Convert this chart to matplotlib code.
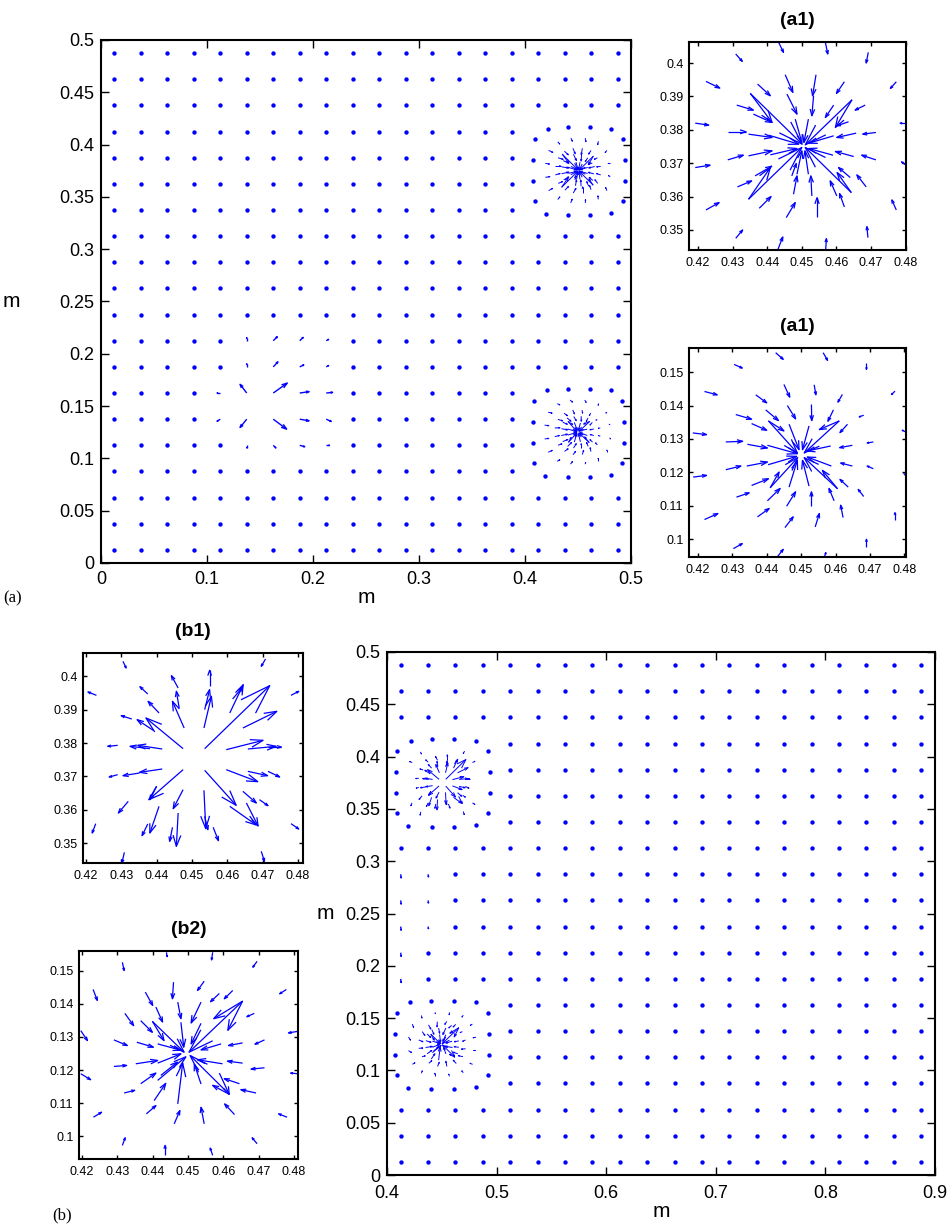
import numpy as np
import matplotlib
matplotlib.use("Agg")
import matplotlib.pyplot as plt
from matplotlib.collections import LineCollection

plt.rcParams['font.family'] = ['Liberation Sans', 'DejaVu Sans']

# regular grid of the coarse mesh (m)
grid_y = [0.0125, 0.0375, 0.0625, 0.0875, 0.1125, 0.1375, 0.1625, 0.1875, 0.2125, 0.2375,
          0.2625, 0.2875, 0.3125, 0.3375, 0.3625, 0.3875, 0.4125, 0.4375, 0.4625, 0.4875]
grid_x_a = list(grid_y)
grid_x_b = [0.4125, 0.4375, 0.4625, 0.4875, 0.5125, 0.5375, 0.5625, 0.5875, 0.6125, 0.6375,
            0.6625, 0.6875, 0.7125, 0.7375, 0.7625, 0.7875, 0.8125, 0.8375, 0.8625, 0.8875]

# refined zones (no coarse points inside)
refined_x = (0.40, 0.50)
refined_y = [(0.325, 0.425), (0.075, 0.175)]

# source centres
center_top = (0.4505, 0.3752)
center_bot = (0.4499, 0.1251)

# outer ring of the refined mesh, offsets in mm (drawn as dots)
ring_outer = [(-29, 40), (-9.5, 41.5), (11, 41.5), (31, 40), (-41, 30), (42, 30),
              (-42.5, 10), (43.5, 10), (-42.5, -10), (43.5, -10), (-41, -29.5), (42, -29.5),
              (-31, -41.5), (-9.5, -42.5), (11, -42.5), (31, -41)]

# arrows (dx, dy, u, v) in mm relative to the centre
a1_top = [
    (-7.2, 31.0, 1.4, -3.0), (6.3, 31.0, 0.7, -3.5), (-19.6, 27.5, 1.9, -2.2), (18.7, 28.0, -0.6, -3.2),
    (-28.2, 19.3, 4.0, -2.0), (26.8, 19.2, -1.7, -2.0), (-31.3, 6.8, 3.9, -0.6), (29.7, 6.8, -1.8, 0.0),
    (-31.3, -6.5, 4.3, 0.7), (29.9, -6.0, -1.6, 1.2), (-28.2, -19.2, 3.8, 2.2), (26.8, -19.2, -1.3, 3.0),
    (-19.6, -27.7, 2.0, 2.5), (18.6, -27.5, -0.3, 3.3), (-7.4, -31.0, 1.4, 3.7), (6.4, -31.0, 0.2, 3.2),
    (-5.3, 21.3, 2.2, -5.3), (3.6, 21.3, -1.0, -6.3), (11.8, 19.2, -2.3, -3.5), (-13.3, 18.5, 3.7, -3.5),
    (17.8, 12.2, -2.9, -1.5), (-19.3, 12.2, 4.8, -1.5), (20.9, 4.0, -3.8, -0.5), (-21.9, 4.2, 5.3, 0.0),
    (-21.9, -4.2, 4.5, 1.4), (20.9, -4.2, -4.1, 1.4), (-19.1, -12.3, 4.1, 1.8), (18.1, -12.3, -2.7, 3.6),
    (-12.8, -18.7, 3.4, 3.5), (11.8, -18.3, -1.4, 4.0), (-5.0, -21.5, 2.6, 4.5), (3.9, -21.2, 0.0, 5.7),
    (-4.8, 15.5, 2.9, -6.0), (2.9, 15.0, -0.5, -6.0), (8.7, 12.2, -2.4, -3.7), (-14.5, 9.5, 5.3, -2.5),
    (13.0, 7.2, -3.4, -1.2), (-15.9, 3.5, 6.8, -1.0), (15.2, 3.8, -5.6, -1.3), (-15.9, -3.0, 6.8, 1.5),
    (14.5, -3.2, -5.3, 1.5), (-14.0, -9.0, 4.8, 2.9), (13.5, -9.5, -3.4, 3.0), (-3.4, -9.0, 1.3, 3.7),
    (2.4, -15.0, -0.3, 6.0), (-2.9, -14.5, 1.0, 5.5), (9.6, -15.0, -1.9, 4.5),
    (-15.4, 15.7, 15.0, -15.2), (-15.4, 15.7, 6.3, -8.7), (14.0, 13.8, -13.5, -13.5), (14.0, 13.8, -4.8, -8.3),
    (-15.9, -16.0, 15.4, 15.5), (-15.9, -16.0, 6.3, 9.5), (13.8, -14.0, -13.3, 13.5), (13.8, -14.0, -4.1, 6.0),
    (-10.1, 3.2, 8.7, -2.7), (-9.6, -2.7, 7.7, 1.9), (8.7, 3.0, -7.2, -2.2), (8.5, -2.8, -7.0, 2.0),
    (-2.4, 8.0, 1.9, -7.0), (1.4, 8.0, -1.3, -7.0), (-1.9, -8.5, 1.4, 7.0), (1.4, -8.5, -1.0, 7.0),
]

a1_bot = [
    (-7.3, 30.7, 2.2, -2.0), (6.5, 30.7, 1.3, -2.3), (-19.4, 27.2, 2.4, -1.1), (19.1, 27.6, 0.0, -1.9),
    (-28.0, 19.1, 3.7, -1.0), (27.4, 19.2, -1.0, -1.0), (-31.4, 6.7, 4.0, -0.5), (30.5, 7.0, -1.0, 0.5),
    (-31.3, -6.5, 3.9, 0.5), (29.9, -5.3, 0.9, -1.2), (-28.0, -19.2, 3.9, 1.8), (27.4, -19.2, 0.0, 2.1),
    (-19.6, -27.9, 2.6, 1.5), (19.1, -27.4, 0.0, 2.3), (-7.0, -30.6, 1.9, 2.5), (6.8, -30.6, 0.5, 1.5),
    (-4.9, 21.2, 1.7, -3.8), (3.9, 21.1, 0.5, -3.0), (12.1, 18.2, -1.3, -2.3), (-13.1, 18.1, 3.2, -2.4),
    (18.3, 12.0, -1.3, -0.5), (-18.9, 12.2, 4.6, -1.4), (21.1, 4.0, -1.8, -0.3), (-21.8, 4.0, 4.9, 0.2),
    (-21.8, -4.3, 4.4, 1.1), (21.1, -4.0, -1.8, 0.8), (-18.7, -12.5, 3.7, 1.3), (18.3, -12.3, -1.6, 2.1),
    (-12.6, -18.4, 3.4, 2.5), (12.3, -18.6, -0.7, 3.7), (-4.6, -21.6, 2.4, 3.2), (4.2, -21.4, 1.2, 4.0),
    (-3.9, 14.9, 2.4, -4.0), (3.1, 15.2, 0.1, -4.8), (9.5, 13.6, -1.6, -3.4), (-10.2, 13.6, 3.7, -3.2),
    (13.6, 9.3, -2.2, -2.5), (-14.3, 9.5, 4.4, -2.0), (15.0, 3.0, -3.7, -0.7), (-15.5, 3.3, 5.8, -1.1),
    (-15.7, -3.2, 6.0, 1.2), (15.0, -3.2, -3.4, 0.9), (-14.3, -9.0, 4.9, 2.0), (13.8, -9.5, -2.4, 2.3),
    (-9.7, -13.6, 3.7, 3.7), (9.7, -13.6, -1.5, 3.7), (-4.1, -15.2, 2.6, 4.3), (3.1, -15.2, 0.0, 4.3),
    (-9.4, 10.3, 8.4, -9.6), (-9.4, 10.3, 4.5, -3.0), (11.2, 10.3, -10.2, -9.6), (11.2, 10.3, -5.8, -2.6),
    (-8.9, -9.7, 8.0, 9.0), (-8.9, -9.7, 2.6, 4.7), (10.7, -10.0, -9.7, 9.3), (10.7, -10.0, -4.4, 5.5),
    (-3.4, 9.3, 2.9, -7.6), (2.4, 8.8, -1.9, -7.1), (-9.7, 3.0, 8.7, -2.5), (-9.5, -2.8, 8.3, 2.5),
    (8.7, 2.8, -6.8, -1.5), (8.9, -3.2, -7.0, 2.7), (-3.4, -9.5, 2.4, 8.0), (2.4, -9.2, -1.9, 7.7),
]

b1_top = [
    (-3.0, 3.1, -10.5, 9.2), (3.1, 3.1, 18.4, 18.9), (-3.0, -3.2, -9.7, -9.0), (3.1, -3.4, 8.9, -10.5),
    (-2.7, 9.3, -3.3, 8.0), (2.9, 9.3, 2.1, 9.5), (-8.9, 3.0, -6.9, 1.1), (9.2, 2.8, 10.4, 2.8),
    (-8.9, -3.0, -6.4, -1.0), (9.2, -3.2, 8.9, -3.6), (-3.0, -9.2, -2.8, -5.7), (2.9, -9.4, 0.5, -11.5),
    (-9.8, 13.8, -3.1, 3.5), (-4.1, 15.3, -0.8, 5.0), (3.1, 14.8, 1.4, 6.0), (10.2, 13.8, 3.8, 8.5),
    (13.9, 9.3, 9.6, 5.0), (-11.3, 8.5, -4.7, 3.3), (15.3, 3.0, 8.0, 0.8), (-12.4, 3.1, -5.6, 0.7),
    (-15.3, -4.2, -4.7, -0.8), (15.3, -3.7, 5.6, -1.3), (-10.5, -8.2, -1.9, -4.0), (13.9, -9.7, 3.8, -3.5),
    (-4.4, -16.2, -0.5, -10.0), (3.1, -17.2, 0.9, -4.0), (-9.8, -14.2, -2.6, -8.0), (10.2, -14.2, 7.5, -5.6),
    (14.9, -13.2, 3.3, -6.9),
    (-20.0, 29.3, 0.9, -2.0), (-4.4, 21.3, -1.9, 3.7), (4.5, 21.8, 0.0, 4.8), (11.0, 18.0, 2.8, 3.5),
    (20.3, 30.0, -1.2, -2.2), (-27.5, 19.1, -2.4, 1.0), (27.5, 19.1, 2.2, 1.2), (-17.5, 12.0, -3.0, 1.0),
    (-21.5, 4.1, -2.8, -0.3), (-21.5, -4.7, -2.4, -0.7), (-18.5, -12.7, -2.8, -3.5), (-27.7, -19.4, -1.0, -2.8),
    (-19.6, -28.0, -0.7, -3.2), (19.1, -27.7, 0.9, -3.0), (27.5, -19.4, 2.2, -1.6), (21.0, 3.6, 3.8, 0.0),
    (21.0, -3.7, 3.3, -1.7), (18.6, -12.2, 2.4, -1.8), (-6.0, -20.5, -0.8, -4.2), (5.5, -20.5, 1.5, -4.0),
    (-13.0, -19.5, -1.6, -3.5), (-13.0, 19.5, -2.2, 2.2),
]

b2_bot = [
    (15.6, 15.7, -15.2, -15.4), (15.6, 15.7, -8.2, -5.3), (15.6, 15.7, -4.2, -8.8),
    (-10.0, 9.6, 9.0, -9.3), (-10.0, 9.6, 3.3, -5.8),
    (-8.5, -8.2, 8.0, 7.1), (-7.6, -6.7, 4.7, 4.0),
    (11.8, -12.4, -11.1, 11.7), (11.8, -12.4, -4.7, 2.7), (9.0, -6.0, 2.8, -6.4),
    (-1.9, 9.3, 0.8, -7.5), (3.8, 9.0, -2.8, -6.2), (-8.5, 2.8, 6.6, -1.9), (9.5, 2.8, -5.7, -1.8),
    (-8.5, -3.0, 6.6, 2.8), (9.9, -3.2, -7.1, 1.2), (-2.8, -15.3, 1.4, 12.3), (3.8, -9.3, -1.9, 6.0),
    (-12.0, 18.4, 2.1, -4.0), (-4.0, 21.4, -0.3, -5.0), (4.7, 21.7, -1.9, -2.8), (12.8, 18.9, -2.4, -2.5),
    (-9.0, 13.9, 1.9, -4.5), (-2.8, 15.4, 0.9, -5.0), (3.8, 15.4, -2.8, -6.3), (-17.8, 12.0, 2.5, -3.7),
    (-13.3, 9.8, 3.3, -3.5), (-14.4, 3.3, 4.7, -1.5), (-20.9, 4.0, 3.8, -1.7), (-20.9, -4.0, 3.6, 0.3),
    (-14.7, -3.2, 6.2, 1.0), (-18.0, -12.0, 3.0, 0.8), (-13.3, -9.2, 4.3, 3.2), (-11.7, -18.3, 2.7, 2.5),
    (-9.5, -14.3, 3.3, 5.2), (-3.8, -21.3, 1.6, 4.0), (4.7, -21.3, -0.9, 5.0), (13.3, -18.5, -2.8, 3.2),
    (14.7, -9.2, -4.3, 1.5), (19.4, -12.0, -4.3, 1.0), (15.6, -3.0, -4.3, 0.6), (21.8, -4.4, -3.8, -0.4),
    (15.6, 3.1, -4.0, -0.8), (21.8, 4.0, -2.7, -1.3), (18.9, 12.0, -2.1, -1.0), (9.0, 18.0, -2.5, -2.5),
    (-18.5, 27.4, 0.5, -2.5), (-6.0, 30.4, 0.2, -1.3), (7.1, 30.4, -0.3, -2.3), (19.7, 27.7, -1.2, -1.8),
    (-26.8, 19.2, 1.2, -3.3), (28.0, 19.2, -1.9, -1.3), (-30.3, 6.8, 1.9, -3.0), (31.3, 6.6, -2.7, -0.5),
    (-30.3, -6.2, 2.8, -1.8), (31.3, -6.2, -2.1, 0.2), (-26.7, -19.3, 2.3, 1.5), (28.2, -19.3, -2.4, 1.0),
    (-18.5, -27.8, 0.8, 2.3), (19.7, -27.3, -1.4, 1.8), (-6.4, -30.8, 0.0, 3.0), (7.1, -30.8, -0.7, 2.2),
]

# coarse-grid arrows that are not just dots: (x, y, u, v) in m
field_a = [
    (0.1375, 0.1625, -0.0063, 0.0083), (0.1625, 0.1625, 0.0132, 0.0095),
    (0.1375, 0.1375, -0.0063, -0.0079), (0.1625, 0.1375, 0.0126, -0.0095),
    (0.1875, 0.1625, 0.0088, 0.0013), (0.2125, 0.1625, 0.0060, 0.0006),
    (0.1875, 0.1375, 0.0088, -0.0016), (0.2125, 0.1375, 0.0047, -0.0022),
    (0.1625, 0.1875, 0.0044, 0.0048), (0.1875, 0.1875, 0.0038, 0.0019),
    (0.2125, 0.1875, 0.0022, 0.0013), (0.1625, 0.2125, 0.0038, 0.0038),
    (0.1875, 0.2125, 0.0032, 0.0032), (0.2125, 0.2125, 0.0022, 0.0013),
    (0.1125, 0.1625, -0.0030, 0.0), (0.1125, 0.1375, -0.0030, -0.0020),
    (0.1625, 0.1125, 0.0025, -0.0025), (0.1875, 0.1125, 0.0047, -0.0013),
    (0.2125, 0.1125, 0.0030, 0.0), (0.1375, 0.2125, 0.0, 0.0030),
    (0.1375, 0.1875, 0.0, 0.0030), (0.1375, 0.1125, 0.0, -0.0025),
]
field_b = [
    (0.4125, 0.2875, 0.0004, -0.0035), (0.4125, 0.2625, 0.0004, -0.0035),
    (0.4125, 0.2375, 0.0004, -0.0035), (0.4125, 0.2125, 0.0004, -0.0035),
    (0.4125, 0.1875, 0.0004, -0.0035), (0.4375, 0.2875, 0.0003, -0.0025),
    (0.4375, 0.2625, 0.0003, -0.0025), (0.4375, 0.2375, 0.0003, -0.0020),
]

BLUE = (0, 0, 1)


def mquiver(ax, x, y, u, v, lw):
    # MATLAB-like quiver: shaft plus open arrowhead, head = 1/3 of the length
    alpha, beta = 0.33, 0.33
    segs = []
    for xi, yi, ui, vi in zip(x, y, u, v):
        tx, ty = xi + ui, yi + vi
        segs.append([(xi, yi), (tx, ty)])
        segs.append([(tx - alpha * (ui + beta * vi), ty - alpha * (vi - beta * ui)),
                     (tx, ty),
                     (tx - alpha * (ui - beta * vi), ty - alpha * (vi + beta * ui))])
    ax.add_collection(LineCollection(segs, colors=[BLUE], linewidths=lw))


def draw_cluster(ax, center, arrows, lw, dot_size):
    arr = np.array(arrows) / 1000.0
    mquiver(ax, center[0] + arr[:, 0], center[1] + arr[:, 1], arr[:, 2], arr[:, 3], lw)
    ring = np.array(ring_outer) / 1000.0
    ax.scatter(center[0] + ring[:, 0], center[1] + ring[:, 1], s=dot_size, color=BLUE,
               linewidths=0, zorder=3)


def draw_grid(ax, gx, field, dot_size, lw):
    fx = [(round(f[0], 4), round(f[1], 4)) for f in field]
    px, py = [], []
    for xv in gx:
        for yv in grid_y:
            inside = refined_x[0] < xv < refined_x[1] and any(a < yv < b for a, b in refined_y)
            if inside or (round(xv, 4), round(yv, 4)) in fx:
                continue
            px.append(xv)
            py.append(yv)
    ax.scatter(px, py, s=dot_size, color=BLUE, linewidths=0, zorder=3)
    f = np.array(field)
    mquiver(ax, f[:, 0], f[:, 1], f[:, 2], f[:, 3], lw)


def style(ax, fs, ticklen, xpad, ypad):
    ax.tick_params(direction='in', top=True, right=True, length=ticklen, width=1,
                   labelsize=fs)
    ax.tick_params(axis='x', pad=xpad)
    ax.tick_params(axis='y', pad=ypad)
    for s in ax.spines.values():
        s.set_linewidth(1.5)


fig = plt.figure(figsize=(9.53, 12.32), dpi=100)

# ---- main (a)
ax_a = fig.add_axes([101 / 953, 1 - 563 / 1232, 530 / 953, 523 / 1232])
draw_grid(ax_a, grid_x_a, field_a, 10, 1.0)
draw_cluster(ax_a, center_top, a1_top, 0.7, 10)
draw_cluster(ax_a, center_bot, a1_bot, 0.7, 10)
ax_a.set_xlim(0, 0.5)
ax_a.set_ylim(0, 0.5)
ax_a.set_xticks([0, 0.1, 0.2, 0.3, 0.4, 0.5])
ax_a.set_xticklabels(['0', '0.1', '0.2', '0.3', '0.4', '0.5'])
ax_a.set_yticks([0, 0.05, 0.1, 0.15, 0.2, 0.25, 0.3, 0.35, 0.4, 0.45, 0.5])
ax_a.set_yticklabels(['0', '0.05', '0.1', '0.15', '0.2', '0.25', '0.3', '0.35', '0.4', '0.45', '0.5'])
style(ax_a, 13, 6, 6, 5)
ax_a.set_xlabel('m', fontsize=15, labelpad=0)
ax_a.set_ylabel('m', fontsize=15, rotation=0, labelpad=34, va='center')

# ---- main (b)
ax_b = fig.add_axes([387 / 953, 57 / 1232, 548 / 953, 523 / 1232])
draw_grid(ax_b, grid_x_b, field_b, 10, 1.0)
draw_cluster(ax_b, center_top, b1_top, 0.7, 10)
draw_cluster(ax_b, center_bot, b2_bot, 0.7, 10)
ax_b.set_xlim(0.4, 0.9)
ax_b.set_ylim(0, 0.5)
ax_b.set_xticks([0.4, 0.5, 0.6, 0.7, 0.8, 0.9])
ax_b.set_xticklabels(['0.4', '0.5', '0.6', '0.7', '0.8', '0.9'])
ax_b.set_yticks([0, 0.05, 0.1, 0.15, 0.2, 0.25, 0.3, 0.35, 0.4, 0.45, 0.5])
ax_b.set_yticklabels(['0', '0.05', '0.1', '0.15', '0.2', '0.25', '0.3', '0.35', '0.4', '0.45', '0.5'])
style(ax_b, 13, 6, 7, 5)
ax_b.set_xlabel('m', fontsize=15, labelpad=0)
ax_b.set_ylabel('m', fontsize=15, rotation=0, labelpad=14, va='center')

# ---- insets
inset_x = [0.42, 0.43, 0.44, 0.45, 0.46, 0.47, 0.48]
inset_xl = ['0.42', '0.43', '0.44', '0.45', '0.46', '0.47', '0.48']


def inset(rect, title, center, arrows, xlim, ylim, yticks, ylabels):
    ax = fig.add_axes(rect)
    draw_cluster(ax, center, arrows, 0.9, 10)
    ax.set_xlim(*xlim)
    ax.set_ylim(*ylim)
    ax.set_xticks(inset_x)
    ax.set_xticklabels(inset_xl)
    ax.set_yticks(yticks)
    ax.set_yticklabels(ylabels)
    style(ax, 9, 3, 5, 4)
    ax.set_title(title, fontsize=14, fontweight='bold', pad=12)
    return ax


inset([689 / 953, 1 - 250 / 1232, 217 / 953, 208 / 1232], '(a1)', center_top, a1_top,
      (0.4174, 0.4801), (0.3440, 0.4063),
      [0.35, 0.36, 0.37, 0.38, 0.39, 0.40], ['0.35', '0.36', '0.37', '0.38', '0.39', '0.4'])
inset([689 / 953, 1 - 557 / 1232, 217 / 953, 209 / 1232], '(a1)', center_bot, a1_bot,
      (0.4174, 0.4805), (0.0947, 0.1572),
      [0.10, 0.11, 0.12, 0.13, 0.14, 0.15], ['0.1', '0.11', '0.12', '0.13', '0.14', '0.15'])
inset([83 / 953, 1 - 863 / 1232, 220 / 953, 210 / 1232], '(b1)', center_top, b1_top,
      (0.4192, 0.4814), (0.3440, 0.4070),
      [0.35, 0.36, 0.37, 0.38, 0.39, 0.40], ['0.35', '0.36', '0.37', '0.38', '0.39', '0.4'])
inset([79 / 953, 1 - 1159 / 1232, 219 / 953, 208 / 1232], '(b2)', center_bot, b2_bot,
      (0.4191, 0.4812), (0.0932, 0.1559),
      [0.10, 0.11, 0.12, 0.13, 0.14, 0.15], ['0.1', '0.11', '0.12', '0.13', '0.14', '0.15'])

fig.text(13 / 953, 1 - 598 / 1232, '(a)', fontsize=12, family=['Liberation Serif', 'DejaVu Serif'],
         ha='center', va='center')
fig.text(62 / 953, 1 - 1215 / 1232, '(b)', fontsize=12, family=['Liberation Serif', 'DejaVu Serif'],
         ha='center', va='center')

fig.savefig('out.png', dpi=100)
